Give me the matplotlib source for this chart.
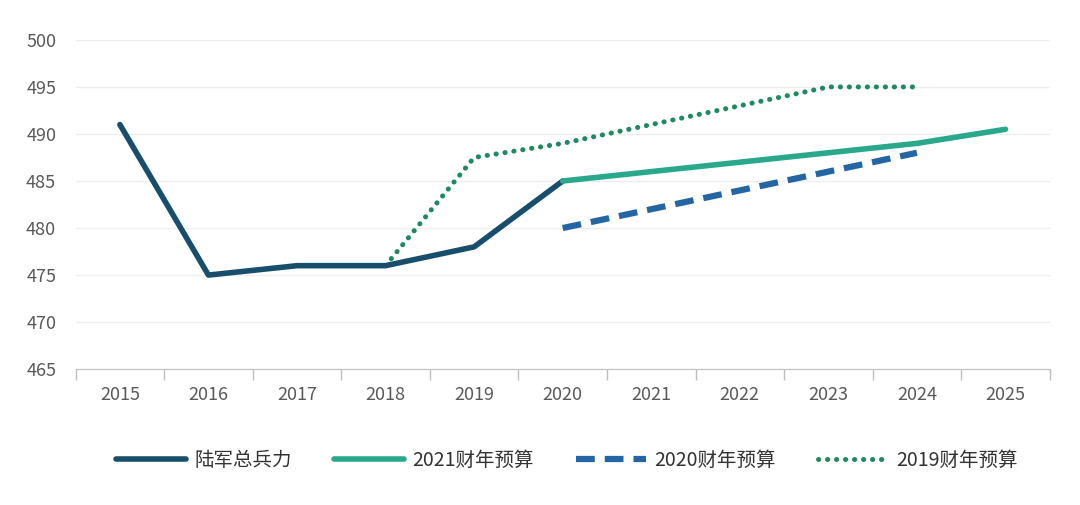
import matplotlib
matplotlib.use("Agg")
import numpy as np
import matplotlib.pyplot as plt

plt.rcParams['font.family'] = ['Noto Sans CJK SC', 'DejaVu Sans']

years = ['2015', '2016', '2017', '2018', '2019', '2020',
         '2021', '2022', '2023', '2024', '2025']

# army total strength (thousands)
army_x = [0, 1, 2, 3, 4, 5]
army_y = [491, 475, 476, 476, 478, 485]

fy21_x = [5, 6, 7, 8, 9, 10]
fy21_y = [485, 486, 487, 488, 489, 490.5]

fy20_x = [5, 6, 7, 8, 9]
fy20_y = [480, 482, 484, 486, 488]

fy19_x = [3, 4, 5, 6, 7, 8, 9]
fy19_y = [476, 487.5, 489, 491, 493, 495, 495]

fig = plt.figure(figsize=(10.8, 5.05), dpi=100)
ax = fig.add_axes([0.070, 0.269, 0.902, 0.652])

ax.plot(fy19_x, fy19_y, color='#1f8a62', lw=3.6, linestyle=(0, (0.05, 1.75)),
        dash_capstyle='round', label='2019财年预算', zorder=2)
ax.plot(army_x, army_y, color='#174e6c', lw=4, solid_capstyle='round',
        label='陆军总兵力', zorder=3)
ax.plot(fy21_x, fy21_y, color='#29a88c', lw=4, solid_capstyle='round',
        label='2021财年预算', zorder=3)
ax.plot(fy20_x, fy20_y, color='#2466a3', lw=4.5, linestyle=(0, (3, 1.6)),
        label='2020财年预算', zorder=3)

ax.set_xlim(-0.5, 10.5)
ax.set_ylim(465, 500)
ax.set_yticks(np.arange(465, 501, 5))
ax.set_xticks(range(len(years)))
ax.set_xticklabels(years)
ax.set_xticks(np.arange(-0.5, 10.6, 1), minor=True)
ax.tick_params(axis='x', which='major', length=0, pad=12, labelsize=13, labelcolor='#595959')
ax.tick_params(axis='x', which='minor', length=8, color='#bfbfbf', width=1)
ax.tick_params(axis='y', length=0, pad=14, labelsize=13, labelcolor='#595959')

for s in ['top', 'right', 'left']:
    ax.spines[s].set_visible(False)
ax.spines['bottom'].set_color('#bfbfbf')
ax.grid(axis='y', color='#eeeeee', lw=1)
ax.set_axisbelow(True)

h, l = ax.get_legend_handles_labels()
order = [1, 2, 3, 0]
leg = fig.legend([h[i] for i in order], [l[i] for i in order],
                 loc='center', bbox_to_anchor=(0.525, 0.088), ncol=4,
                 frameon=False, fontsize=14, handlelength=3.6,
                 handletextpad=0.4, columnspacing=2.2)
for t in leg.get_texts():
    t.set_color('#333333')

fig.savefig('out.png', dpi=100, facecolor='white')
